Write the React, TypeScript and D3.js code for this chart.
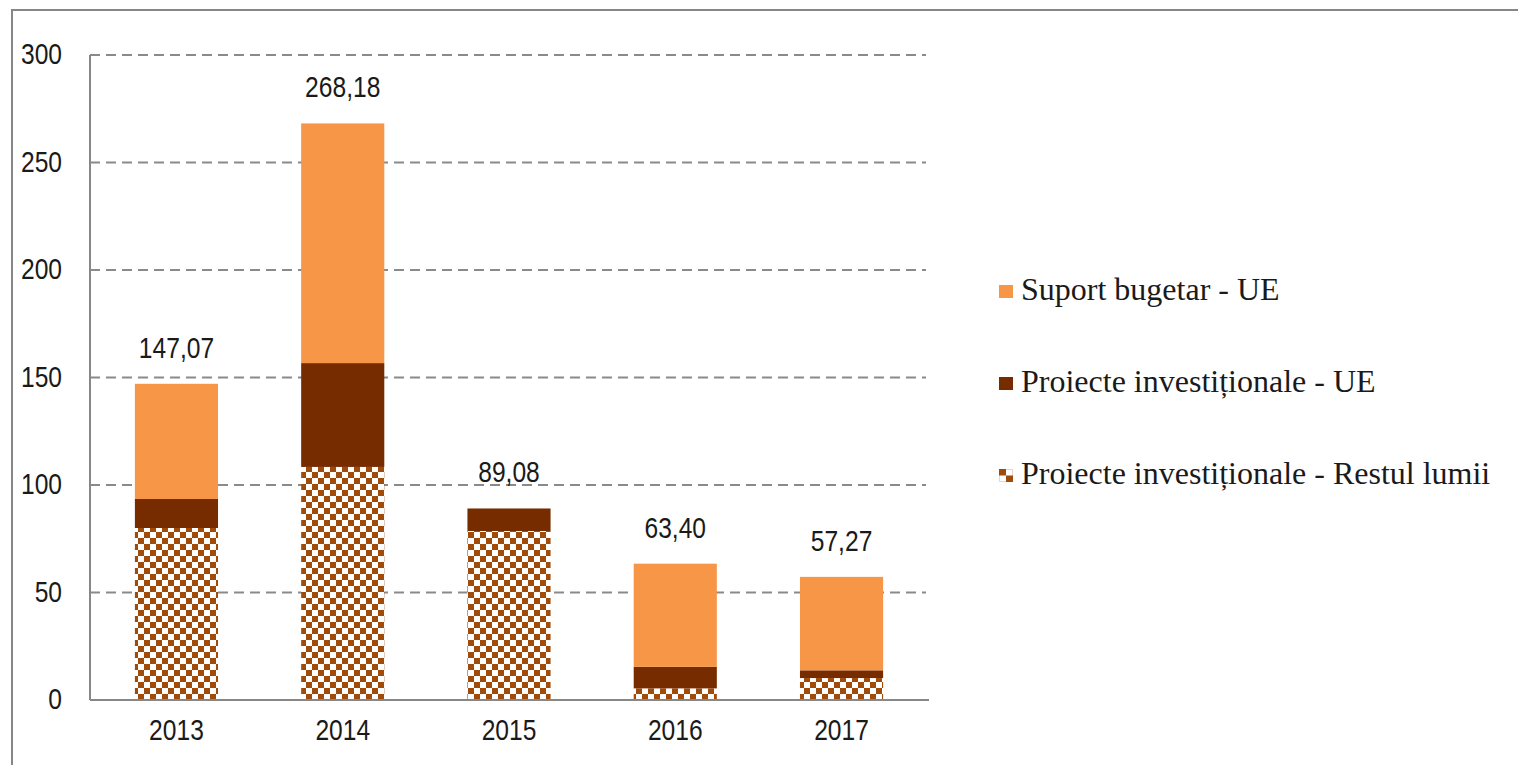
import React from 'react';
import * as d3 from 'd3';

const years = ['2013', '2014', '2015', '2016', '2017'];
const restulLumii = [80.0, 108.4, 78.6, 5.4, 10.2];
const proiecteUE = [13.5, 48.3, 10.48, 10.0, 3.6];
const suportUE = [53.57, 111.48, 0, 48.0, 43.47];
const totals = ['147,07', '268,18', '89,08', '63,40', '57,27'];
const yTicks = [0, 50, 100, 150, 200, 250, 300];
const legendLabels = [
  'Suport bugetar - UE',
  'Proiecte investiționale - UE',
  'Proiecte investiționale - Restul lumii',
];

const colors = {
  suport: '#F79646',
  proiecte: '#772C00',
  checker: '#A04B0A',
  axis: '#878787',
  grid: '#8a8a8a',
  text: '#1a1a1a',
};

const sansFont = '"Liberation Sans", Arimo, sans-serif';
const serifFont = '"Liberation Serif", "DejaVu Serif", serif';
// squeeze the sans labels horizontally, the reference font is narrower
const squeeze = 0.82;

const plot = { left: 90, right: 928, top: 55, bottom: 700 };

function Label(props: { x: number; y: number; anchor: string; children: React.ReactNode }) {
  return (
    <text
      transform={`translate(${props.x},${props.y}) scale(${squeeze},1)`}
      textAnchor={props.anchor}
      fontFamily={sansFont}
      fontSize={30}
      fill={colors.text}
    >
      {props.children}
    </text>
  );
}

export default function App() {
  const x = d3.scaleBand<string>()
    .domain(years)
    .range([plot.left, plot.right])
    .paddingInner(0.5)
    .paddingOuter(0.27);

  const y = d3.scaleLinear()
    .domain([0, 300])
    .range([plot.bottom, plot.top]);

  const rows = years.map((yr, i) => ({
    year: yr,
    label: totals[i],
    stack: [
      { key: 'restul', fill: 'url(#checker)', y0: 0, y1: restulLumii[i] },
      { key: 'proiecte', fill: colors.proiecte, y0: restulLumii[i], y1: restulLumii[i] + proiecteUE[i] },
      {
        key: 'suport',
        fill: colors.suport,
        y0: restulLumii[i] + proiecteUE[i],
        y1: restulLumii[i] + proiecteUE[i] + suportUE[i],
      },
    ],
  }));

  const legendY = [291, 383, 475];
  const cell = 6;

  return (
    <svg
      width={1518}
      height={765}
      style={{ position: 'absolute', left: 0, top: 0, background: '#fff' }}
    >
      <defs>
        <pattern id="checker" patternUnits="userSpaceOnUse" width={cell * 2} height={cell * 2} x={0} y={plot.bottom}>
          <rect width={cell * 2} height={cell * 2} fill="#fff" />
          <rect width={cell} height={cell} fill={colors.checker} />
          <rect x={cell} y={cell} width={cell} height={cell} fill={colors.checker} />
        </pattern>
      </defs>

      {/* outer frame */}
      <rect x={12} y={10} width={1530} height={780} fill="none" stroke={colors.axis} strokeWidth={2} />

      {/* gridlines */}
      {yTicks.filter(t => t > 0).map(t => (
        <line
          key={t}
          x1={plot.left}
          x2={plot.right - 2}
          y1={y(t)}
          y2={y(t)}
          stroke={colors.grid}
          strokeWidth={2}
          strokeDasharray="10,6"
        />
      ))}

      {/* bars */}
      {rows.map(r => (
        <g key={r.year}>
          {r.stack.filter(s => s.y1 > s.y0).map(s => (
            <rect
              key={s.key}
              x={x(r.year)}
              width={x.bandwidth()}
              y={y(s.y1)}
              height={y(s.y0) - y(s.y1)}
              fill={s.fill}
            />
          ))}
          <Label x={(x(r.year) as number) + x.bandwidth() / 2} y={y(r.stack[2].y1) - 26} anchor="middle">
            {r.label}
          </Label>
        </g>
      ))}

      {/* axes */}
      <line x1={plot.left} x2={plot.left} y1={plot.top} y2={plot.bottom} stroke={colors.axis} strokeWidth={2} />
      <line x1={plot.left} x2={plot.right + 1} y1={plot.bottom} y2={plot.bottom} stroke={colors.axis} strokeWidth={2} />

      {yTicks.map(t => (
        <Label key={t} x={62} y={y(t) + 9} anchor="end">{t}</Label>
      ))}

      {years.map(yr => (
        <Label key={yr} x={(x(yr) as number) + x.bandwidth() / 2} y={740} anchor="middle">{yr}</Label>
      ))}

      {/* legend */}
      {legendLabels.map((lbl, i) => (
        <g key={lbl}>
          {i < 2 ? (
            <rect x={999} y={legendY[i] - 6} width={14} height={13} fill={i === 0 ? colors.suport : colors.proiecte} />
          ) : (
            <g>
              <rect x={999.5} y={legendY[i] - 5.5} width={13} height={12} fill="#fff" stroke="#e9d6c8" strokeWidth={1} />
              <rect x={999} y={legendY[i] - 6} width={7} height={6.5} fill={colors.checker} />
              <rect x={1006} y={legendY[i] + 0.5} width={7} height={6.5} fill={colors.checker} />
            </g>
          )}
          <text
            x={1021}
            y={legendY[i] + 9}
            fontFamily={serifFont}
            fontSize={32}
            fill={colors.text}
          >
            {lbl}
          </text>
        </g>
      ))}
    </svg>
  );
}
